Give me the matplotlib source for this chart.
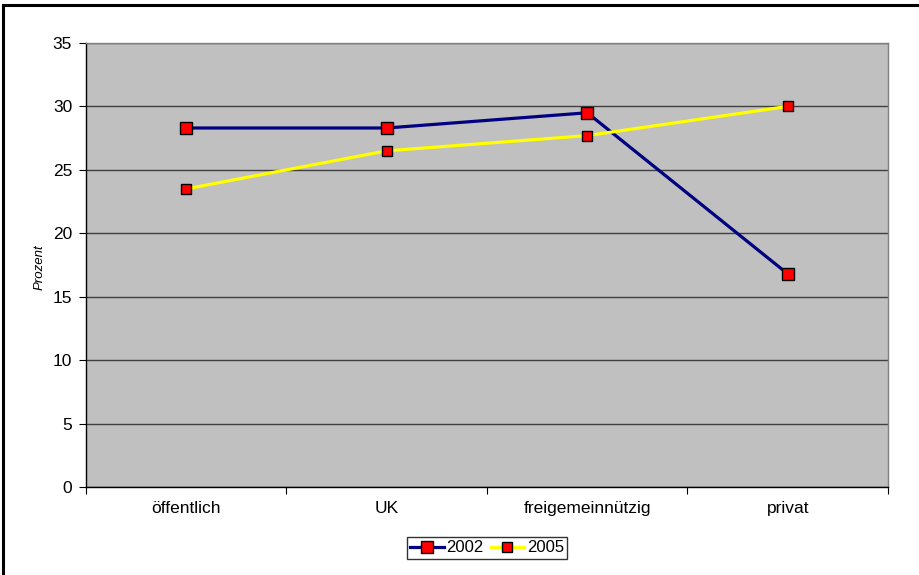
import matplotlib.pyplot as plt
import numpy as np

plt.rcParams['font.family'] = ['Liberation Sans', 'DejaVu Sans']

categories = ["öffentlich", "UK", "freigemeinnützig", "privat"]
werte_2002 = [28.3, 28.3, 29.5, 16.8]
werte_2005 = [23.5, 26.5, 27.7, 30.0]
yticks = [0, 5, 10, 15, 20, 25, 30, 35]

fig = plt.figure(figsize=(9.2, 5.75), dpi=100)
ax = fig.add_axes([86/920, 1 - 487/575, 802/920, 444/575])
ax.set_facecolor('#C0C0C0')

x = np.arange(len(categories)) + 0.5
ax.plot(x, werte_2002, color='#000080', lw=2.3, marker='s', ms=8.5,
        mfc='#FF0000', mec='black', mew=1.0, label='2002', zorder=3)
ax.plot(x, werte_2005, color='#FFFF00', lw=2.3, marker='s', ms=7.5,
        mfc='#FF0000', mec='black', mew=1.0, label='2005', zorder=3)

ax.set_xlim(0, len(categories))
ax.set_ylim(0, 35)
ax.set_yticks(yticks)
ax.set_yticklabels([str(v) for v in yticks], fontsize=12.5)
ax.yaxis.grid(True, color='#404040', lw=1.0)
ax.set_axisbelow(True)

ax.set_xticks(np.arange(len(categories) + 1))
ax.set_xticklabels([])
ax.set_xticks(x, minor=True)
ax.set_xticklabels(categories, minor=True, fontsize=12.5)
ax.tick_params(axis='x', which='minor', length=0, pad=10)
ax.tick_params(axis='x', which='major', length=5, direction='out', color='black')
ax.tick_params(axis='y', length=5, direction='out', color='black', pad=5)

for s in ['top', 'right']:
    ax.spines[s].set_color('#808080')
    ax.spines[s].set_linewidth(1.0)
for s in ['left', 'bottom']:
    ax.spines[s].set_color('black')
    ax.spines[s].set_linewidth(1.0)

fig.text(40/920, 1 - 267/575, 'Prozent', rotation=90, style='italic',
         fontsize=9.5, ha='center', va='center')

leg = fig.legend(loc='center', bbox_to_anchor=(487/920, 1 - 548/575), ncol=2,
                 frameon=True, fancybox=False, edgecolor='black', fontsize=12,
                 handlelength=2.0, handletextpad=0.15, columnspacing=0.45,
                 borderpad=0.2, borderaxespad=0)
leg.get_frame().set_linewidth(1.0)

# Rahmen links und oben
fig.add_artist(plt.Line2D([3/920, 3/920], [0, 1 - 5/575], color='black', lw=2.2,
                          transform=fig.transFigure))
fig.add_artist(plt.Line2D([3/920, 1], [1 - 5/575, 1 - 5/575], color='black', lw=2.2,
                          transform=fig.transFigure))

fig.savefig('out.png', dpi=100)
